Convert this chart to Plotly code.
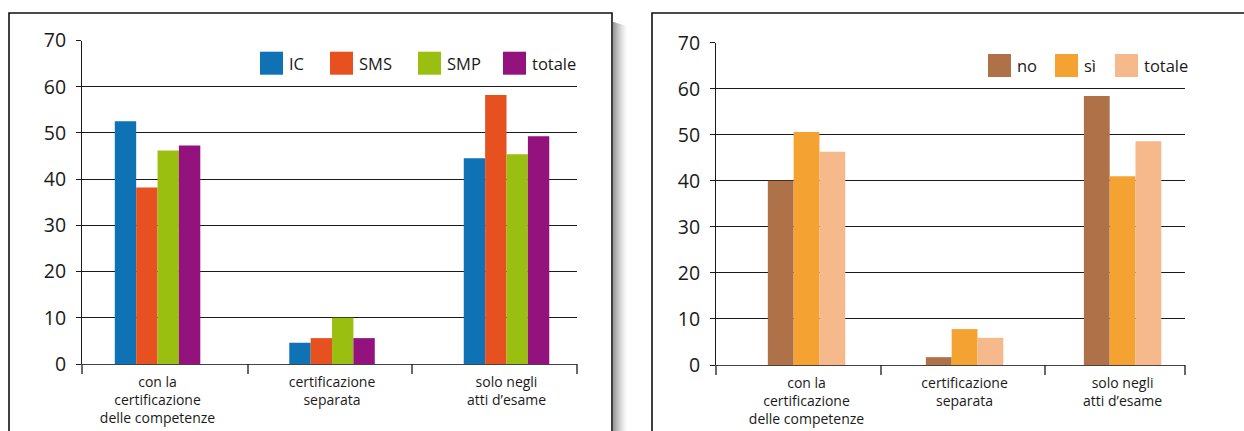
import plotly.graph_objects as go

W, H = 1244, 431

# ---------------- data ----------------
categories = ["con la<br>certificazione<br>delle competenze",
              "certificazione<br>separata",
              "solo negli<br>atti d’esame"]

left_series = ["IC", "SMS", "SMP", "totale"]
left_IC = [52.5, 4.6, 44.5]
left_SMS = [38.2, 5.6, 58.2]
left_SMP = [46.2, 10.0, 45.4]
left_totale = [47.3, 5.6, 49.3]
left_values = [left_IC, left_SMS, left_SMP, left_totale]
left_colors = ["#0e72b5", "#e75120", "#9bbf10", "#93127d"]

right_series = ["no", "sì", "totale"]
right_no = [40.0, 1.7, 58.4]
right_si = [50.6, 7.8, 41.0]
right_totale = [46.3, 5.9, 48.6]
right_values = [right_no, right_si, right_totale]
right_colors = ["#ae7148", "#f4a333", "#f6b98b"]

y_ticks = [0, 10, 20, 30, 40, 50, 60, 70]

FONT = "Open Sans"
INK = "#1a1a1a"


def fx(x):
    return x / W


def fy(y):
    return 1 - y / H


fig = go.Figure()

for name, vals, col in zip(left_series, left_values, left_colors):
    fig.add_trace(go.Bar(x=categories, y=vals, name=name, marker_color=col,
                         marker_line_width=0, xaxis="x", yaxis="y",
                         showlegend=False))
for name, vals, col in zip(right_series, right_values, right_colors):
    fig.add_trace(go.Bar(x=categories, y=vals, name=name, marker_color=col,
                         marker_line_width=0, xaxis="x2", yaxis="y2",
                         showlegend=False))

panels = [
    dict(x0=82, x1=577, y0=364, y1=40.5, rng=[-0.433, 2.404],
         seps=[82, 248, 412, 577]),
    dict(x0=716, x1=1185, y0=365, y1=42.7, rng=[-0.573, 2.395],
         seps=[716, 881, 1045, 1185]),
]

common_x = dict(type="category", showgrid=False, zeroline=False, showline=False,
                ticks="", tickfont=dict(family=FONT, size=14, color=INK),
                ticklabelstandoff=8, fixedrange=True, automargin=False)
common_y = dict(range=[0, 70], tickvals=y_ticks, showgrid=True, gridcolor=INK,
                gridwidth=1, zeroline=True, zerolinecolor="#444", zerolinewidth=1,
                showline=True, linecolor=INK, linewidth=1, ticks="outside",
                ticklen=5, tickcolor=INK, tickfont=dict(family=FONT, size=19.5, color=INK),
                ticklabelstandoff=6, fixedrange=True, automargin=False)

p0, p1 = panels
fig.update_layout(
    xaxis=dict(domain=[fx(p0["x0"]), fx(p0["x1"])], range=p0["rng"], anchor="y", **common_x),
    yaxis=dict(domain=[fy(p0["y0"]), fy(p0["y1"])], anchor="x", **common_y),
    xaxis2=dict(domain=[fx(p1["x0"]), fx(p1["x1"])], range=p1["rng"], anchor="y2", **common_x),
    yaxis2=dict(domain=[fy(p1["y0"]), fy(p1["y1"])], anchor="x2", **common_y),
)

shapes = []
# category separator ticks
for p in panels:
    for sx in p["seps"]:
        shapes.append(dict(type="line", xref="paper", yref="paper",
                           x0=fx(sx), x1=fx(sx), y0=fy(p["y0"]), y1=fy(p["y0"] + 10),
                           line=dict(color=INK, width=1.3)))

# soft shadow right of the left frame
for i in range(14):
    shapes.append(dict(type="rect", xref="paper", yref="paper",
                       x0=fx(613 + i), x1=fx(614 + i), y0=0, y1=fy(22 + i * 0.3),
                       line=dict(width=0), fillcolor="rgba(120,120,120,%.3f)" % (0.75 * (1 - i / 14) ** 1.3),
                       layer="below"))

# frames (open at the bottom / right edge of the picture)
shapes.append(dict(type="path", xref="paper", yref="paper",
                   path="M %f,0 L %f,%f L %f,%f L %f,0" % (fx(9), fx(9), fy(13), fx(612), fy(13), fx(612)),
                   line=dict(color="#111", width=1.6)))
shapes.append(dict(type="path", xref="paper", yref="paper",
                   path="M %f,0 L %f,%f L 1,%f" % (fx(652), fx(652), fy(13), fy(13)),
                   line=dict(color="#111", width=1.6)))

# custom legends with large square swatches
annotations = []
legend_left_x = [260, 330, 418, 503]
legend_right_x = [988, 1055, 1115]
for names, cols, xs, ytop in [(left_series, left_colors, legend_left_x, 51.7),
                              (right_series, right_colors, legend_right_x, 54)]:
    for name, col, sx in zip(names, cols, xs):
        shapes.append(dict(type="rect", xref="paper", yref="paper",
                           x0=fx(sx), x1=fx(sx + 23), y0=fy(ytop + 23), y1=fy(ytop),
                           line=dict(width=0), fillcolor=col))
        annotations.append(dict(xref="paper", yref="paper", x=fx(sx + 27), y=fy(ytop + 11.5),
                                xanchor="left", yanchor="middle", text=name, showarrow=False,
                                font=dict(family=FONT, size=16.5, color=INK)))

fig.update_layout(
    width=W, height=H, autosize=False, margin=dict(l=0, r=0, t=0, b=0, pad=0),
    paper_bgcolor="white", plot_bgcolor="rgba(0,0,0,0)",
    barmode="group", bargap=0.51, bargroupgap=0,
    shapes=shapes, annotations=annotations, showlegend=False,
    font=dict(family=FONT, color=INK),
)

fig.write_html("out.html", config={"displayModeBar": False, "responsive": False},
               post_script="document.body.style.margin='0';document.body.style.overflow='hidden';")
